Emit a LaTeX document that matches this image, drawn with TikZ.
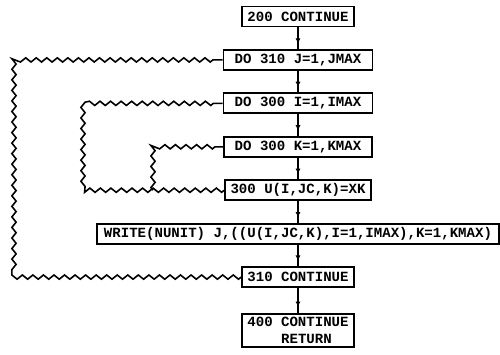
\documentclass[tikz,border=0pt]{standalone}
\usepackage{fontspec}
\setmonofont{Liberation Mono}
\usetikzlibrary{arrows.meta, positioning, decorations.pathmorphing, decorations.markings}

\begin{document}
\begin{tikzpicture}[
  node distance=0.43cm,
  flow/.style={line width=0.7pt, postaction={decorate},
    decoration={markings, mark=at position 0.75 with {\arrow{Latex[length=3pt,width=3pt]}}}},
  loopback/.style={line width=0.9pt, decorate,
    decoration={zigzag, segment length=6pt, amplitude=1.2pt, post length=4pt}},
  box/.style={
    draw,
    line width=1.1pt,
    rectangle,
    minimum height=0.4cm,
    inner xsep=3pt,
    inner ysep=1pt,
    align=left,
    font=\ttfamily\bfseries\fontsize{8}{9.5}\selectfont
  }
]

  \useasboundingbox (-5.96,0.33) rectangle (4.04,-6.75);

  % main column of statements
  \node[box, minimum width=2.2cm] (c200) {200 CONTINUE};
  \node[box, minimum width=2.98cm, below=of c200] (do310) {DO 310 J=1,JMAX};
  \node[box, minimum width=2.98cm, below=of do310] (do300i) {DO 300 I=1,IMAX};
  \node[box, minimum width=2.96cm, below=of do300i] (do300k) {DO 300 K=1,KMAX};
  \node[box, minimum width=2.9cm, below=of do300k] (s300) {300 U(I,JC,K)=XK};
  \node[box, minimum width=8.04cm, below=of s300] (wr) {WRITE(NUNIT) J,((U(I,JC,K),I=1,IMAX),K=1,KMAX)};
  \node[box, minimum width=2.08cm, below=of wr] (c310) {310 CONTINUE};
  \node[box, minimum width=2.2cm, minimum height=0.66cm, below=0.5cm of c310] (c400) {400 CONTINUE\\\phantom{400 }RETURN};

  \foreach \a/\b in {c200/do310, do310/do300i, do300i/do300k, do300k/s300, s300/wr, wr/c310, c310/c400}
    \draw[flow] (\a) -- (\b);

  % loop returns
  \coordinate (outer) at (-5.68,0);
  \coordinate (middle) at (-4.30,0);
  \coordinate (inner) at (-2.90,0);

  \draw[loopback] (c310.west) -- (c310.west -| outer) -- (do310.west -| outer) -- (do310.west);
  \draw[loopback] (s300.west) -- (s300.west -| middle) -- (do300i.west -| middle) -- (do300i.west);
  \draw[loopback] (s300.west -| inner) -- (do300k.west -| inner) -- (do300k.west);

\end{tikzpicture}
\end{document}
